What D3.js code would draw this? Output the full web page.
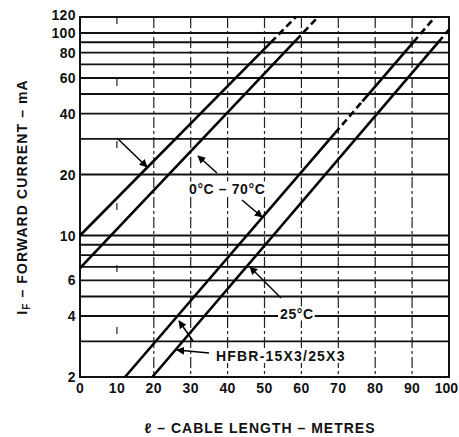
<!DOCTYPE html>
<html><head><meta charset="utf-8">
<script src="https://cdn.jsdelivr.net/npm/d3@7"></script>
<style>
body{margin:0;background:#fff}
text{font-family:"Liberation Sans",Arial,sans-serif;font-weight:bold;fill:#111}
</style>
</head><body>
<svg id="c" width="459" height="437"></svg>
<script>
// ---- data ----
const lengthTicks = [0,10,20,30,40,50,60,70,80,90,100];
const lengthGrid = [10,20,30,40,50,60,70,80,90];
const currentGrid = [3,4,5,6,7,8,9,10,20,30,40,50,60,70,80,90,100];
const currentLabels = [2,4,6,10,20,40,60,80,100,120];
// each curve: [length m, current mA] at both ends of the straight (log-linear) line
const curve0to70Upper = [[0,10],[58.5,120]];
const curve0to70Lower = [[0,6.9],[64.5,120]];
const curve25Upper = [[12.2,2],[96.2,120]];
const curve25Lower = [[19.6,2],[100,104]];
const curves = [curve0to70Upper, curve0to70Lower, curve25Upper, curve25Lower];
// current ranges drawn dashed on each curve
const dashedRanges = [[[90,120]],[[92,120]],[[32,46],[90,120]],[[90,120]]];

// ---- layout ----
const svg = d3.select("#c");
const x = d3.scaleLinear().domain([0,100]).range([80,449]);
const y = d3.scaleLog().domain([2,120]).range([377,17]);

// position along a curve for a given current
function lenAt(c, I){
  const [[L0,I0],[L1,I1]] = c;
  return L0 + (L1-L0)*Math.log(I/I0)/Math.log(I1/I0);
}

// vertical grid
svg.append("g").selectAll("line").data(lengthGrid).join("line")
  .attr("x1",d=>x(d)).attr("x2",d=>x(d)).attr("y1",y(120)).attr("y2",y(2))
  .attr("stroke","#222").attr("stroke-width",1.2)
  .attr("stroke-dasharray",d=>d===10?"7,55":"11,3,3,3");

// horizontal grid
svg.append("g").selectAll("line").data(currentGrid).join("line")
  .attr("x1",x(0)).attr("x2",x(100)).attr("y1",d=>y(d)).attr("y2",d=>y(d))
  .attr("stroke","#111").attr("stroke-width",1.9);

// frame
svg.append("rect").attr("x",x(0)).attr("y",y(120)).attr("width",x(100)-x(0)).attr("height",y(2)-y(120))
  .attr("fill","none").attr("stroke","#111").attr("stroke-width",2);

// curves
const cg = svg.append("g");
curves.forEach((c,i)=>{
  const [s,e] = c;
  const ranges = dashedRanges[i];
  let pts = [s[1]];
  ranges.forEach(r=>{pts.push(r[0]); pts.push(Math.min(r[1],e[1]));});
  pts.push(e[1]);
  for(let k=0;k<pts.length-1;k++){
    const a=pts[k], b=pts[k+1];
    if(b<=a) continue;
    const dashed = ranges.some(r=>a>=r[0]-1e-9 && b<=r[1]+1e-9);
    cg.append("line")
      .attr("x1",x(lenAt(c,a))).attr("y1",y(a))
      .attr("x2",x(lenAt(c,b))).attr("y2",y(b))
      .attr("stroke","#000").attr("stroke-width",2.6)
      .attr("stroke-dasharray",dashed?"7,4":null);
  }
});

// arrow marker
svg.append("defs").append("marker").attr("id","ah")
  .attr("viewBox","0 0 10 10").attr("refX",9).attr("refY",5)
  .attr("markerWidth",8).attr("markerHeight",8).attr("orient","auto")
  .attr("markerUnits","userSpaceOnUse")
  .append("path").attr("d","M0,0L10,5L0,10z").attr("fill","#000");

function label(txt, x0, yb, ls){
  const t = svg.append("text").attr("x",x0).attr("y",yb).attr("font-size",14)
    .attr("letter-spacing",ls).text(txt);
  const b = t.node().getBBox();
  svg.insert("rect", function(){return t.node();})
    .attr("x",b.x-2).attr("y",b.y+1).attr("width",b.width+3).attr("height",b.height-2).attr("fill","#fff");
  return t;
}
function arrow(x1,y1,x2,y2){
  svg.append("line").attr("x1",x1).attr("y1",y1).attr("x2",x2).attr("y2",y2)
    .attr("stroke","#000").attr("stroke-width",1.5).attr("marker-end","url(#ah)");
}

label("0°C – 70°C",189,193.5,0.6);
label("25°C",280,318.5,0.6);
label("HFBR-15X3/25X3",216,361,1.2);

arrow(117,138,147,167);
arrow(217,173,198,156);
arrow(242,200,262,217);
arrow(281,298,250,267);
arrow(209,353,177,350);
arrow(193,341,179,321);

// tick labels
svg.append("g").selectAll("text").data(currentLabels).join("text")
  .attr("x",76).attr("y",d=>y(d)).attr("dy","0.36em").attr("text-anchor","end")
  .attr("font-size",14).attr("letter-spacing",0.4)
  .attr("transform",d=>d===120?"translate(0,-2)":null)
  .text(d=>d);
svg.append("g").selectAll("text").data(lengthTicks).join("text")
  .attr("x",d=>x(d)).attr("y",393)
  .attr("text-anchor",d=>d===100?"end":"middle")
  .attr("dx",d=>d===100?9:0)
  .attr("font-size",14).attr("letter-spacing",d=>d===100?0:0.4)
  .text(d=>d);

// axis titles
svg.append("text").attr("x",260).attr("y",433).attr("text-anchor","middle")
  .attr("font-size",14).attr("letter-spacing",1).text("ℓ – CABLE LENGTH – METRES");
const yt = svg.append("text").attr("transform","translate(27,197) rotate(-90)")
  .attr("text-anchor","middle").attr("font-size",14).attr("letter-spacing",1.1);
yt.append("tspan").text("I");
yt.append("tspan").attr("font-size",10).attr("dy",3).text("F");
yt.append("tspan").attr("dy",-3).text(" – FORWARD CURRENT – mA");
</script>
</body></html>
